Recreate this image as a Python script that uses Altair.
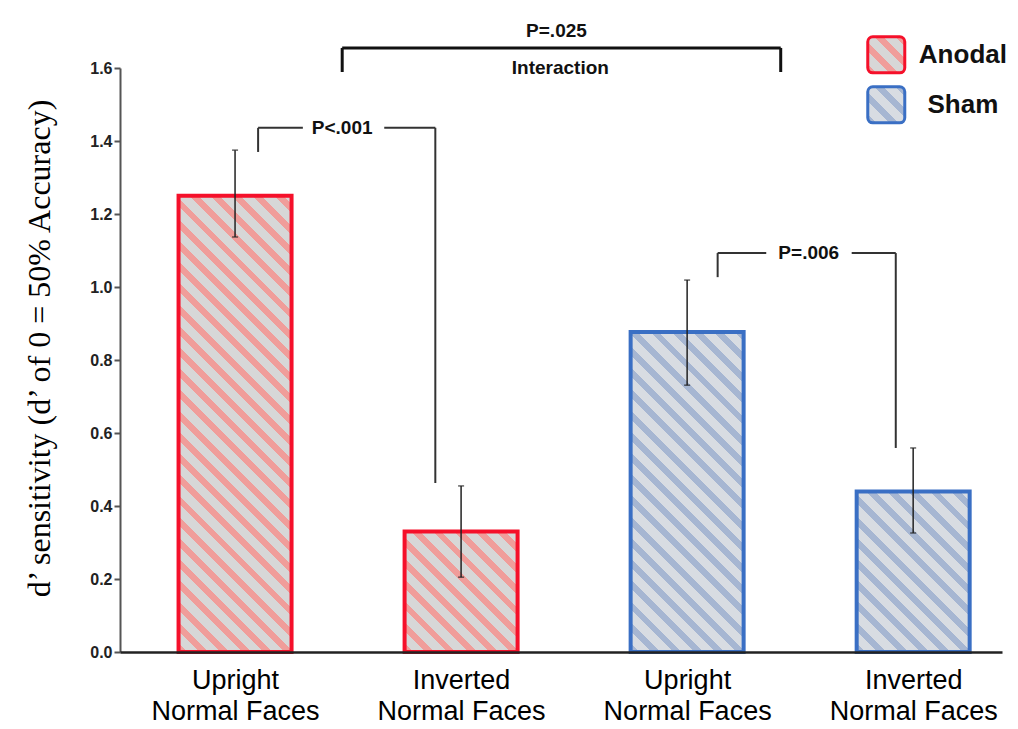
import math
import json
import altair as alt
import pandas as pd

# ---------------- data ----------------
cond_lines = [["Upright", "Normal Faces"], ["Inverted", "Normal Faces"],
              ["Upright", "Normal Faces"], ["Inverted", "Normal Faces"]]
groups = ["Anodal", "Anodal", "Sham", "Sham"]
positions = [1, 2, 3, 4]
means = [1.25, 0.33, 0.877, 0.44]
err_low = [1.137, 0.205, 0.731, 0.326]
err_high = [1.375, 0.455, 1.019, 0.559]

# significance brackets (data units)
br_left = [1.102, 3.135]
br_right = [1.886, 3.923]
br_top = [1.436, 1.093]
br_left_end = [1.370, 1.027]
br_right_end = [0.463, 0.559]
br_gap_from = [1.300, 3.350]
br_gap_to = [1.660, 3.728]
br_text = ["P<.001", "P=.006"]
br_text_x = [1.474, 3.538]

inter_left = 1.474
inter_right = 3.414
inter_top = 1.655
inter_end = 1.589
inter_p = "P=.025"
inter_p_x = 2.422
inter_p_y = 1.701
inter_label = "Interaction"
inter_label_x = 2.439
inter_label_y = 1.600

legend_labels = ["Anodal", "Sham"]
legend_y = [1.636, 1.499]
legend_box_x = 3.881
legend_text_x = 4.220

# ---------------- styles ----------------
WIDTH, HEIGHT = 882, 584
X_DOMAIN = [0.491, 4.393]
Y_DOMAIN = [0, 1.6]
px_per_x = WIDTH / (X_DOMAIN[1] - X_DOMAIN[0])
px_per_y = HEIGHT / (Y_DOMAIN[1] - Y_DOMAIN[0])
BAR_W = 113

stroke_col = {"Anodal": "#f5102a", "Sham": "#3a6fc4"}
bg_col = {"Anodal": "#d7d7d7", "Sham": "#d8dce2"}
stripe_col = {"Anodal": "#f09d9a", "Sham": "#a6b6d2"}

SANS = "Liberation Sans"
SERIF = "Liberation Serif"


def stripes(w, h, stripe, bg, period=15.0, frac=0.42):
    t = (w + h) / (w * w + h * h)
    n = (w + h) / (math.sqrt(2) * period)
    stops = []
    k = 0
    while k < n:
        a = k / n
        b = min((k + frac) / n, 1.0)
        c = min((k + 1) / n, 1.0)
        stops += [(a, stripe), (b, stripe), (b, bg), (c, bg)]
        k += 1
    return alt.Gradient(
        gradient="linear", x1=0, y1=1, x2=t * w, y2=1 - t * h,
        stops=[alt.GradientStop(offset=o, color=col) for o, col in stops],
    )


df = pd.DataFrame({"pos": positions, "group": groups, "mean": means,
                   "lo": err_low, "hi": err_high})

xs = alt.Scale(domain=X_DOMAIN, nice=False, zero=False, padding=0)
ys = alt.Scale(domain=Y_DOMAIN, nice=False, zero=False, padding=0)

label_expr = json.dumps([[]] + cond_lines) + "[datum.value]"

x_axis = alt.Axis(values=positions, labelExpr=label_expr, title=None, ticks=False,
                  labelFont=SANS, labelFontSize=27, labelColor="#000",
                  labelLineHeight=31, labelPadding=15, domainColor="#222",
                  domainWidth=2.5, grid=False, zindex=1, labelFlush=False,
                  labelOverlap=False)
y_axis = alt.Axis(values=[0, 0.2, 0.4, 0.6, 0.8, 1.0, 1.2, 1.4, 1.6], format=".1f",
                  title="d\u2019 sensitivity (d\u2019 of 0 = 50% Accuracy)",
                  titleFont=SERIF, titleFontSize=32, titleFontWeight="normal",
                  titleColor="#000", titlePadding=33, titleY=280,
                  labelFont=SANS, labelFontSize=16, labelFontWeight="bold",
                  labelColor="#222", labelPadding=2, tickSize=6, tickWidth=2,
                  tickColor="#555", domainColor="#555", domainWidth=2, grid=False,
                  labelFlush=False, labelOverlap=False)


def X(f):
    return alt.X(f, scale=xs, axis=x_axis)


def Y(f):
    return alt.Y(f, scale=ys, axis=y_axis)


layers = []
for i in range(len(positions)):
    g = groups[i]
    fill = stripes(BAR_W, means[i] * px_per_y, stripe_col[g], bg_col[g])
    layers.append(
        alt.Chart(df.iloc[[i]]).mark_bar(size=BAR_W, fill=fill, stroke=stroke_col[g],
                                         strokeWidth=4).encode(
            x=X("pos:Q"), y=Y("mean:Q"), y2=alt.datum(0),
        )
    )

# error bars
layers.append(alt.Chart(df).mark_rule(color="#222", strokeWidth=1.5).encode(
    x=X("pos:Q"), y=Y("lo:Q"), y2="hi:Q"))
for f in ["lo", "hi"]:
    layers.append(alt.Chart(df).mark_tick(color="#222", size=6, thickness=1.5,
                                          orient="horizontal").encode(
        x=X("pos:Q"), y=Y(f"{f}:Q")))

# bracket segments
segs = []
for i in range(len(br_left)):
    segs.append(dict(x=br_left[i], x2=br_left[i], y=br_left_end[i], y2=br_top[i]))
    segs.append(dict(x=br_left[i], x2=br_gap_from[i], y=br_top[i], y2=br_top[i]))
    segs.append(dict(x=br_gap_to[i], x2=br_right[i], y=br_top[i], y2=br_top[i]))
    segs.append(dict(x=br_right[i], x2=br_right[i], y=br_right_end[i], y2=br_top[i]))
seg_df = pd.DataFrame(segs)
layers.append(alt.Chart(seg_df).mark_rule(color="#333", strokeWidth=2).encode(
    x=X("x:Q"), x2="x2:Q", y=Y("y:Q"), y2="y2:Q"))

inter_df = pd.DataFrame([
    dict(x=inter_left, x2=inter_left, y=inter_end, y2=inter_top),
    dict(x=inter_left, x2=inter_right, y=inter_top, y2=inter_top),
    dict(x=inter_right, x2=inter_right, y=inter_end, y2=inter_top),
])
layers.append(alt.Chart(inter_df).mark_rule(color="#111", strokeWidth=3).encode(
    x=X("x:Q"), x2="x2:Q", y=Y("y:Q"), y2="y2:Q"))

text_df = pd.DataFrame({
    "t": br_text + [inter_p, inter_label],
    "x": br_text_x + [inter_p_x, inter_label_x],
    "y": br_top + [inter_p_y, inter_label_y],
})
layers.append(alt.Chart(text_df).mark_text(font=SANS, fontSize=19, fontWeight="bold",
                                           color="#111", align="center",
                                           baseline="middle").encode(
    x=X("x:Q"), y=Y("y:Q"), text="t:N"))

# legend
half_w = 18.5 / px_per_x
half_h = 18.0 / px_per_y
for j, g in enumerate(legend_labels):
    ldf = pd.DataFrame({"x": [legend_box_x - half_w], "x2": [legend_box_x + half_w],
                        "y": [legend_y[j] - half_h], "y2": [legend_y[j] + half_h]})
    layers.append(alt.Chart(ldf).mark_rect(
        fill=stripes(37, 36, stripe_col[g], bg_col[g], period=15.0, frac=0.42),
        stroke=stroke_col[g], strokeWidth=3, cornerRadius=5).encode(
        x=X("x:Q"), x2="x2:Q", y=Y("y:Q"), y2="y2:Q"))

leg_df = pd.DataFrame({"t": legend_labels, "x": [legend_text_x] * 2, "y": legend_y})
layers.append(alt.Chart(leg_df).mark_text(font=SANS, fontSize=26, fontWeight="bold",
                                          color="#111", align="center",
                                          baseline="middle").encode(
    x=X("x:Q"), y=Y("y:Q"), text="t:N"))

chart = alt.layer(*layers).properties(
    width=WIDTH, height=HEIGHT, autosize="none",
    padding={"left": 112, "top": 60, "right": 8, "bottom": 76},
    background="white",
).configure_view(stroke=None)

chart.save("out.html", embed_options={"renderer": "svg", "actions": False})
